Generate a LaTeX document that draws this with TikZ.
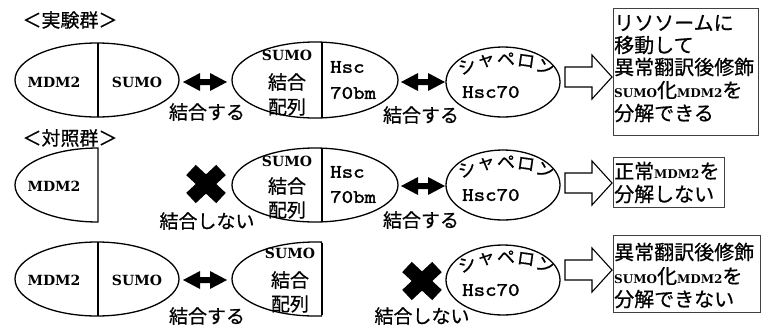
\documentclass[tikz,border=0pt]{standalone}
\usepackage{fontspec}
\setmainfont{Liberation Serif}
\newfontfamily\jp[FakeBold=0.6]{Noto Sans CJK JP}
\newfontfamily\serb{DejaVu Serif}
\newfontfamily\monof[FakeBold=1.6,FakeStretch=1.15]{lmmono10-regular.otf}
\newcommand\latn[1]{{\serb\bfseries\fontsize{12}{14}\selectfont #1}}
\begin{document}
\begin{tikzpicture}[x=1pt,y=-1pt,
  jt/.style={font=\jp\fontsize{19}{21}\selectfont, inner sep=0},
  kt/.style={font=\jp\fontsize{18}{20}\selectfont, inner sep=0},
  lt/.style={font=\serb\bfseries\fontsize{14}{16}\selectfont, inner sep=0},
  mt/.style={font=\monof\fontsize{19}{21}\selectfont, inner sep=0, anchor=west},
  bt/.style={font=\jp\fontsize{20}{22}\selectfont, inner sep=0, anchor=west},
  ln/.style={line width=1.3pt},
  resbox/.style={draw=black!75, line width=1pt},
  dblarrow/.pic={\fill (-22,0) -- (-5,-9) -- (-5,-3) -- (5,-3) -- (5,-9) -- (22,0) -- (5,9) -- (5,3) -- (-5,3) -- (-5,9) -- cycle;},
  xmark/.pic={\draw[line width=14pt] (-15,-14) -- (15,14); \draw[line width=14pt] (15,-14) -- (-15,14);},
  barrow/.pic={\draw[line width=1.1pt, line join=miter] (-23,-10) -- (4,-10) -- (4,-22) -- (24,0) -- (4,22) -- (4,10) -- (-23,10) -- cycle;},
  chap/.pic={
    \node[kt,rotate=20] (s1) at (-36,-16) {シ};
    \node[kt,rotate=8] (s2) at (-17,-21) {ャ};
    \node[kt] (s3) at (3,-23) {ペ};
    \node[kt,rotate=-8] (s4) at (23,-21) {ロ};
    \node[kt,rotate=-20] (s5) at (42,-15) {ン};
    \node[mt] (hsc) at (-41,10) {Hsc70};
  }
]
\useasboundingbox (0,0) rectangle (763,325);

% titles
\node[jt] (t1) at (70,20) {＜実験群＞};
\node[jt] (t2) at (70,138) {＜対照群＞};

% ---------- row 1 ----------
\draw[ln] (97,80) ellipse[x radius=82, y radius=37];
\draw[ln] (98,43) -- (98,117);
\node[lt] (r1m) at (54,82) {MDM2};
\node[lt] (r1s) at (137,82) {SUMO};
\pic at (205,82) {dblarrow};
\node[jt] (r1b1) at (207,112) {結合する};

\draw[ln] (315,80) ellipse[x radius=83, y radius=38];
\draw[ln] (322,42) -- (322,118);
\node[lt] (r1a) at (287,55) {SUMO};
\node[jt] (r1b) at (287,82) {結合};
\node[jt] (r1c) at (287,107) {配列};
\node[mt] (r1h) at (330,67) {Hsc};
\node[mt] (r1h2) at (330,93) {70bm};
\pic at (423,82) {dblarrow};
\node[jt] (r1b2) at (421,115) {結合する};

\draw[ln] (503,82) ellipse[x radius=57, y radius=35];
\pic at (503,82) {chap};
\pic at (588,77) {barrow};

\draw[resbox] (613,8) rectangle (758,135);
\node[bt] (b1a) at (614,23) {リソソームに};
\node[bt] (b1b) at (614,45) {移動して};
\node[bt] (b1c) at (614,67) {異常翻訳後修飾};
\node[bt] (b1d) at (614,90) {\latn{SUMO}化\latn{MDM2}を};
\node[bt] (b1e) at (614,113) {分解できる};

% ---------- row 2 ----------
\draw[ln] (98,148) arc[start angle=-90, end angle=-270, x radius=83, y radius=37] -- cycle;
\node[lt] (r2m) at (54,186) {MDM2};
\pic at (206,184) {xmark};
\node[jt] (r2b1) at (207,221) {結合しない};

\draw[ln] (315,185) ellipse[x radius=83, y radius=37];
\draw[ln] (322,148) -- (322,222);
\node[lt] (r2a) at (287,161) {SUMO};
\node[jt] (r2b) at (287,186) {結合};
\node[jt] (r2c) at (287,210) {配列};
\node[mt] (r2h) at (330,172) {Hsc};
\node[mt] (r2h2) at (330,197) {70bm};
\pic at (423,186) {dblarrow};
\node[jt] (r2b2) at (421,220) {結合する};

\draw[ln] (503,185) ellipse[x radius=57, y radius=35];
\pic at (503,185) {chap};
\pic at (588,183) {barrow};

\draw[resbox] (613,157) rectangle (724,207);
\node[bt] (b2a) at (614,171) {正常\latn{MDM2}を};
\node[bt] (b2b) at (614,194) {分解しない};

% ---------- row 3 ----------
\draw[ln] (97,279) ellipse[x radius=82, y radius=37];
\draw[ln] (98,242) -- (98,316);
\node[lt] (r3m) at (54,280) {MDM2};
\node[lt] (r3s) at (137,280) {SUMO};
\pic at (205,280) {dblarrow};
\node[jt] (r3b1) at (207,316) {結合する};

\begin{scope}
\clip (200,230) rectangle (322,330);
\draw[ln] (315,279) ellipse[x radius=83, y radius=37];
\end{scope}
\draw[ln] (322,243) -- (322,315);
\node[lt] (r3a) at (290,253) {SUMO};
\node[jt] (r3b) at (290,280) {結合};
\node[jt] (r3c) at (290,304) {配列};
\pic at (422,281) {xmark};
\node[jt] (r3b2) at (422,316) {結合しない};

\draw[ln] (503,280) ellipse[x radius=57, y radius=35];
\pic at (503,280) {chap};
\pic at (588,270) {barrow};

\draw[resbox] (613,235) rectangle (760,312);
\node[bt] (b3a) at (614,252) {異常翻訳後修飾};
\node[bt] (b3b) at (614,276) {\latn{SUMO}化\latn{MDM2}を};
\node[bt] (b3c) at (614,299) {分解できない};
\end{tikzpicture}
\end{document}
